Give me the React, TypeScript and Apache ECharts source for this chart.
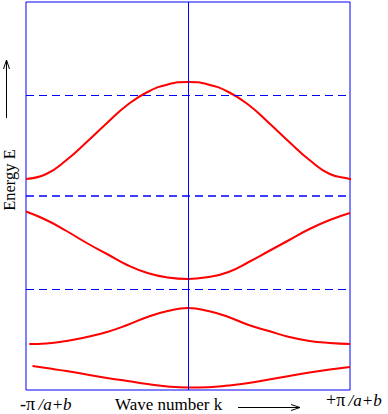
import React, { useEffect, useRef } from "react";
import * as echarts from "echarts";

// k in units of pi/(a+b)
const band1K = [-0.96, -0.875, -0.75, -0.625, -0.5, -0.375, -0.25, -0.125, 0, 0.125, 0.25, 0.375, 0.5, 0.625, 0.75, 0.875, 1.0];
const band1E = [24, 22, 19, 15.5, 12, 9, 6, 3.5, 2.5, 2.8, 4.5, 7, 10.5, 14, 17.5, 20.5, 23];

const band2K = [-0.98, -0.875, -0.75, -0.625, -0.5, -0.375, -0.25, -0.125, 0, 0.125, 0.25, 0.375, 0.5, 0.625, 0.75, 0.875, 1.0];
const band2E = [46, 46.5, 49, 53, 58, 65, 73, 79, 82, 79, 73, 65, 59, 53, 49, 47, 46];

const band3K = [-1.0, -0.875, -0.75, -0.625, -0.5, -0.375, -0.25, -0.125, 0, 0.125, 0.25, 0.375, 0.5, 0.625, 0.75, 0.875, 1.0];
const band3E = [178.5, 170, 159, 147, 136, 125, 117, 112.5, 111, 113, 118, 128, 139, 150, 161, 170, 177];

const band4K = [-1.0, -0.875, -0.75, -0.625, -0.5, -0.375, -0.25, -0.125, 0, 0.125, 0.25, 0.375, 0.5, 0.625, 0.75, 0.875, 1.0, 1.05];
const band4E = [211, 216, 230, 248, 267, 285, 298, 305.5, 308, 305.5, 298, 285, 267, 248, 230, 216, 211, 208];

const gapLinesBlack = [295, 101];
const gapLineBlue = [194];

const xLeftLabel = "-π";
const xRightLabel = "+π";
const xUnit = "/a+b";
const xTitle = "Wave number k";
const yTitle = "Energy E";

const zip = (k: number[], e: number[]) => k.map((v, i) => [v, e[i]]);

export default function App() {
  const ref = useRef<HTMLDivElement>(null);
  useEffect(() => {
    if (!ref.current) return;
    const chart = echarts.init(ref.current, null, { renderer: "svg" });
    const bandStyle = { color: "#ff0000", width: 2 };
    const mkBand = (k: number[], e: number[]) => ({
      type: "line",
      data: zip(k, e),
      smooth: true,
      showSymbol: false,
      symbol: "none",
      clip: false,
      lineStyle: bandStyle,
      z: 3,
    });
    const font = "'Liberation Serif', 'DejaVu Serif', serif";
    chart.setOption({
      animation: false,
      grid: {
        left: 26,
        right: 38,
        top: 2,
        bottom: 24,
        show: true,
        borderColor: "#0000ff",
        borderWidth: 1,
        backgroundColor: "transparent",
      },
      xAxis: { type: "value", min: -1, max: 1, show: false },
      yAxis: { type: "value", min: 0, max: 388, show: false },
      series: [
        mkBand(band1K, band1E),
        mkBand(band2K, band2E),
        mkBand(band3K, band3E),
        mkBand(band4K, band4E),
        {
          type: "line",
          data: [],
          markLine: {
            silent: true,
            symbol: "none",
            label: { show: false },
            data: [
              ...gapLinesBlack.map((v) => ({
                yAxis: v,
                lineStyle: { color: "#0000ff", type: [8, 5], width: 1 },
              })),
              ...gapLineBlue.map((v) => ({
                yAxis: v,
                lineStyle: { color: "#0000ff", type: [8, 5], width: 1.5 },
              })),
              { xAxis: 0, lineStyle: { color: "#0000ff", type: "solid", width: 1 } },
            ],
          },
        },
      ],
      graphic: [
        {
          type: "text",
          x: 20,
          y: 404,
          style: {
            text: `{n|${xLeftLabel}} {i|${xUnit}}`,
            verticalAlign: "middle",
            rich: {
              n: { fontFamily: font, fontSize: 18, fill: "#000" },
              i: { fontFamily: font, fontSize: 17, fontStyle: "italic", fill: "#000" },
            },
          },
        },
        {
          type: "text",
          x: 115,
          y: 404,
          style: { text: xTitle, fontFamily: font, fontSize: 17, fill: "#000", verticalAlign: "middle" },
        },
        {
          type: "text",
          x: 326,
          y: 400,
          style: {
            text: `{n|${xRightLabel}} {i|${xUnit}}`,
            verticalAlign: "middle",
            rich: {
              n: { fontFamily: font, fontSize: 18, fill: "#000" },
              i: { fontFamily: font, fontSize: 17, fontStyle: "italic", fill: "#000" },
            },
          },
        },
        {
          type: "text",
          x: 9,
          y: 180,
          rotation: Math.PI / 2,
          style: {
            text: yTitle,
            fontFamily: font,
            fontSize: 16.5,
            fill: "#000",
            align: "center",
            verticalAlign: "middle",
          },
        },
        { type: "line", shape: { x1: 238, y1: 407.5, x2: 300, y2: 407.5 }, style: { stroke: "#000", lineWidth: 1 } },
        {
          type: "polyline",
          shape: { points: [[291, 404.5], [300, 407.5], [291, 410.5]] },
          style: { stroke: "#000", lineWidth: 1, fill: "none" },
        },
        { type: "line", shape: { x1: 6.5, y1: 118, x2: 6.5, y2: 60 }, style: { stroke: "#000", lineWidth: 1 } },
        {
          type: "polyline",
          shape: { points: [[3.5, 69], [6.5, 60], [9.5, 69]] },
          style: { stroke: "#000", lineWidth: 1, fill: "none" },
        },
      ],
    });
    return () => chart.dispose();
  }, []);
  return (
    <div
      ref={ref}
      style={{ position: "fixed", left: 0, top: 0, width: 388, height: 414, background: "#fff" }}
    />
  );
}
